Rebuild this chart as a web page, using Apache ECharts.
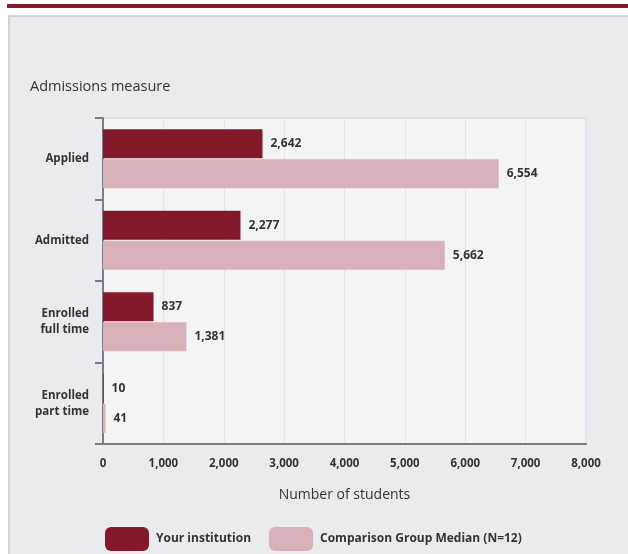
<!DOCTYPE html>
<html>
<head>
<meta charset="utf-8">
<script src="https://cdn.jsdelivr.net/npm/echarts@6/dist/echarts.min.js"></script>
<style>
  html, body { margin: 0; padding: 0; background: #ffffff; }
  #chart { width: 628px; height: 554px; }
</style>
</head>
<body>
<div id="chart"></div>
<script>
// data
var categories = ['Applied', 'Admitted', 'Enrolled\nfull time', 'Enrolled\npart time'];
var yourInstitution = [2642, 2277, 837, 10];
var comparisonMedian = [6554, 5662, 1381, 41];
var xTicks = [0, 1000, 2000, 3000, 4000, 5000, 6000, 7000, 8000];

var myChart = echarts.init(document.getElementById('chart'));
var fontFam = '"Open Sans", Lato, sans-serif';

// comma thousands, e.g. 2,642
function fmt(v) { return Number(v).toLocaleString('en-US'); }

var valueLabel = {
  show: true,
  position: 'right',
  distance: 8,
  fontSize: 12,
  fontWeight: 'bold',
  color: '#333',
  padding: [3, 0, 0, 0],
  formatter: function (p) { return fmt(p.value); }
};

var option = {
  backgroundColor: '#ffffff',
  animation: false,
  textStyle: { fontFamily: fontFam },
  graphic: [
    // maroon band at top
    { type: 'rect', shape: { x: 7, y: 4, width: 621, height: 4 }, style: { fill: '#84192c' }, z: -10 },
    // grey panel
    { type: 'rect', shape: { x: 8, y: 15, width: 620, height: 539 }, style: { fill: '#eaebef' }, z: -10 },
    { type: 'rect', shape: { x: 8, y: 15, width: 620, height: 2 }, style: { fill: '#d2d3d6' }, z: -9 },
    { type: 'rect', shape: { x: 8, y: 15, width: 2, height: 539 }, style: { fill: '#d2d3d6' }, z: -9 }
  ],
  title: {
    text: 'Admissions measure',
    left: 25,
    top: 74,
    textStyle: { fontSize: 14.5, fontWeight: 500, color: '#333', fontFamily: fontFam }
  },
  legend: {
    left: 100,
    top: 522,
    itemWidth: 44,
    itemHeight: 24,
    itemGap: 18,
    icon: 'roundRect',
    textStyle: { fontSize: 12, fontWeight: 'bold', color: '#333', fontFamily: fontFam, padding: [0, 0, 0, 2] },
    data: ['Your institution', 'Comparison Group Median (N=12)']
  },
  grid: {
    left: 103,
    right: 42,
    top: 118,
    bottom: 110,
    show: true,
    backgroundColor: '#f4f4f4',
    borderColor: '#cfd0d3',
    borderWidth: 1
  },
  xAxis: {
    type: 'value',
    min: xTicks[0],
    max: xTicks[xTicks.length - 1],
    interval: xTicks[1] - xTicks[0],
    name: 'Number of students',
    nameLocation: 'middle',
    nameGap: 44,
    nameTextStyle: { fontSize: 14, color: '#333', fontFamily: fontFam },
    axisLine: { show: true, lineStyle: { color: '#7a7d85', width: 2 } },
    axisTick: { show: false },
    axisLabel: {
      fontSize: 11.5,
      fontWeight: 'bold',
      color: '#333',
      margin: 14,
      formatter: fmt
    },
    splitLine: { show: true, lineStyle: { color: '#dfe4ef', width: 1 } }
  },
  yAxis: {
    type: 'category',
    inverse: true,
    data: categories,
    axisLine: { show: true, lineStyle: { color: '#7a7d85', width: 2 } },
    axisTick: { show: true, length: 8, lineStyle: { color: '#7a7d85', width: 2 } },
    axisLabel: {
      fontSize: 11.5,
      fontWeight: 'bold',
      color: '#333',
      margin: 14,
      lineHeight: 16,
      align: 'right'
    }
  },
  series: [
    {
      name: 'Your institution',
      type: 'bar',
      data: yourInstitution,
      barWidth: 29,
      barGap: '4%',
      itemStyle: { color: '#84192c' },
      label: valueLabel
    },
    {
      name: 'Comparison Group Median (N=12)',
      type: 'bar',
      data: comparisonMedian,
      barWidth: 29,
      itemStyle: { color: '#d8b1b8' },
      label: valueLabel
    }
  ]
};

myChart.setOption(option);
window.addEventListener('resize', function () { myChart.resize(); });
</script>
</body>
</html>
